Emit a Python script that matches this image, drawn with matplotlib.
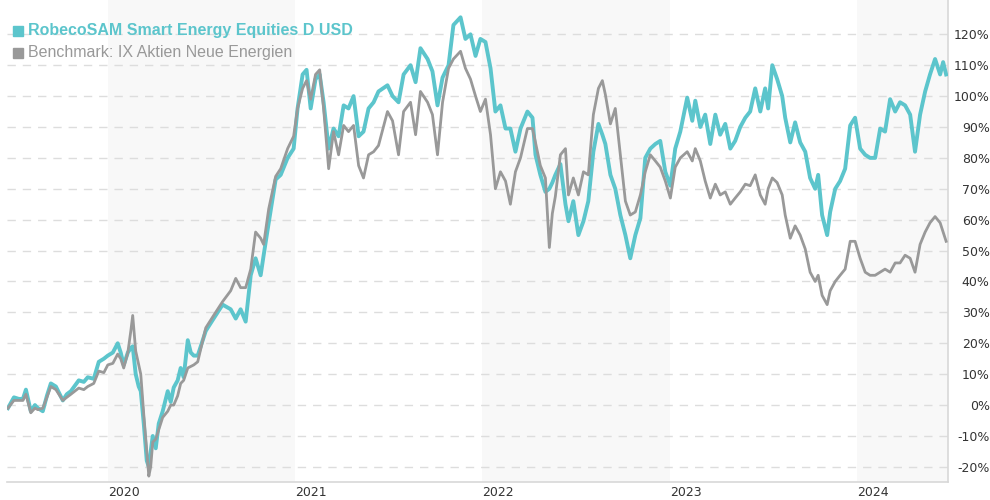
import matplotlib.pyplot as plt
from matplotlib.lines import Line2D

# time axis in decimal years, values in % performance
dates = [
    2019.467, 2019.499, 2019.525, 2019.547, 2019.563, 2019.589, 2019.611, 2019.627, 2019.653, 2019.675,
    2019.696, 2019.723, 2019.760, 2019.781, 2019.803, 2019.845, 2019.872, 2019.893, 2019.925, 2019.952,
    2019.979,
    2020.000, 2020.027, 2020.053, 2020.069, 2020.085, 2020.107, 2020.123, 2020.133, 2020.149, 2020.165,
    2020.176, 2020.192, 2020.208, 2020.219, 2020.229, 2020.240, 2020.256, 2020.272, 2020.293, 2020.320,
    2020.336, 2020.352, 2020.373, 2020.389, 2020.405, 2020.427, 2020.443, 2020.459, 2020.480, 2020.523,
    2020.565, 2020.613, 2020.656, 2020.683, 2020.709, 2020.736, 2020.763, 2020.789, 2020.816, 2020.832,
    2020.859, 2020.896, 2020.923, 2020.960, 2020.992,
    2021.013, 2021.040, 2021.061, 2021.083, 2021.109, 2021.131, 2021.152, 2021.179, 2021.205, 2021.232,
    2021.259, 2021.285, 2021.312, 2021.339, 2021.365, 2021.392, 2021.419, 2021.445, 2021.493, 2021.520,
    2021.552, 2021.579, 2021.616, 2021.643, 2021.669, 2021.707, 2021.733, 2021.760, 2021.787, 2021.819,
    2021.845, 2021.883, 2021.909, 2021.936, 2021.963, 2021.989,
    2022.016, 2022.043, 2022.069, 2022.096, 2022.123, 2022.149, 2022.176, 2022.203, 2022.240, 2022.267,
    2022.283, 2022.309, 2022.336, 2022.357, 2022.373, 2022.389, 2022.416, 2022.443, 2022.459, 2022.485,
    2022.512, 2022.539, 2022.565, 2022.592, 2022.619, 2022.640, 2022.656, 2022.683, 2022.709, 2022.736,
    2022.763, 2022.789, 2022.816, 2022.843, 2022.869, 2022.896, 2022.923, 2022.949, 2022.976,
    2023.003, 2023.029, 2023.056, 2023.093, 2023.120, 2023.136, 2023.163, 2023.189, 2023.216, 2023.243,
    2023.269, 2023.296, 2023.323, 2023.349, 2023.376, 2023.403, 2023.429, 2023.456, 2023.483, 2023.509,
    2023.525, 2023.547, 2023.573, 2023.600, 2023.616, 2023.643, 2023.669, 2023.696, 2023.723, 2023.749,
    2023.776, 2023.792, 2023.813, 2023.840, 2023.856, 2023.883, 2023.909, 2023.936, 2023.963, 2023.989,
    2024.016, 2024.043, 2024.069, 2024.096, 2024.123, 2024.149, 2024.176, 2024.203, 2024.229, 2024.256,
    2024.283, 2024.309, 2024.336, 2024.363, 2024.389, 2024.416, 2024.443, 2024.459, 2024.475,
]

fund = [
    -1, 2.5, 2, 2, 5, -2, 0, -1, -2, 3, 7, 6, 1.5, 3.5, 4.5, 8, 7.5, 9, 8.5, 14, 15,
    16, 17, 20, 17, 13, 17, 18.5, 19, 10, 6, 4.5, -6, -18, -20, -15, -10, -14, -6, -2, 4.5,
    1, 5.7, 8, 12, 9, 21, 17, 16, 16, 24, 28, 32.5, 31, 28, 31, 27, 42, 47.5, 42, 48.5,
    59, 73, 74.5, 80, 83,
    96, 107, 108.5, 96, 105.5, 107, 98, 83, 89.5, 87, 97, 96, 100, 87, 88.5, 96, 98, 101.5, 103.5, 100,
    98, 107, 110, 104.5, 115.5, 112, 108, 97, 106, 110, 123, 125.5, 118.5, 120, 113, 118.5,
    117.5, 109, 95, 97, 89.5, 89.5, 82, 89.5, 95, 93, 81, 74.5, 69, 70, 72, 74.5, 78, 65, 59.5, 66,
    55, 59.5, 66, 82, 91, 87.5, 84.5, 74.5, 70, 61.5, 55, 47.5, 55, 60.5, 80, 83, 84.5, 85.5, 75.5,
    71, 83, 88.5, 99.5, 92, 98.5, 90, 94, 84.5, 94, 87.5, 91, 83, 85.5, 90, 93, 95, 102.5, 95, 102.5,
    96, 110, 105.5, 100, 93, 85, 91.5, 85, 82, 73.5, 70, 74.5, 61.5, 55, 62.5, 70, 72.5, 76.5, 90.5, 93,
    83, 81, 80, 80, 89.5, 88.5, 99, 95, 98, 97, 94, 82, 94, 101.5, 107, 112, 107, 111, 107,
]

benchmark = [
    -1, 1.5, 1.5, 1.5, 3.5, -2.5, -1, -1.5, -1, 2.5, 6, 5, 1.5, 2.5, 3.5, 5.5, 5, 6, 7, 11, 10.5,
    13, 13.5, 16.5, 15, 12, 17, 24, 29, 17.5, 13, 10, -3, -15, -23, -20, -12, -11, -8, -4, -2,
    0, 0, 3, 7, 8, 12, 12.5, 13, 14, 25, 29, 33.5, 37, 41, 38, 38, 44, 56, 54, 52,
    63.5, 74, 76.5, 83, 87,
    96, 102.5, 105, 99, 107, 108.5, 96, 76.5, 88.5, 81, 90.5, 88.5, 90.5, 77.5, 73.5, 81, 82, 84, 95, 92,
    81, 95, 98, 87.5, 101.5, 98, 94, 81, 98, 109, 112, 114.5, 109, 105.5, 100, 95,
    99, 87.5, 70, 75.5, 72.5, 65, 75.5, 80, 89.5, 89.5, 85, 77.5, 73.5, 51, 62, 67.5, 81, 83, 68, 73.5,
    68, 75.5, 74.5, 94, 102.5, 105, 100.5, 91, 96, 81, 66, 61.5, 62.5, 68, 75.5, 81, 79, 77, 72.5,
    67, 77, 80, 82, 79, 83, 79, 72.5, 67, 71.5, 68, 69, 65, 67, 69, 71.5, 71, 74.5, 68, 65,
    70, 73.5, 72, 68, 61.5, 54, 58, 55, 50.5, 43, 40, 42, 35.5, 32.5, 37, 40, 42, 44, 53, 53,
    47.5, 43, 42, 42, 43, 44, 43, 46, 46, 48.5, 47.5, 43, 52, 56, 59, 61, 59, 56, 53,
]

years = [2020, 2021, 2022, 2023, 2024]
shaded_years = [2020, 2022, 2024]
y_ticks = list(range(-20, 130, 10))

fund_name = "RobecoSAM Smart Energy Equities D USD"
bench_name = "Benchmark: IX Aktien Neue Energien"

teal = "#5cc5cc"
grey = "#999999"

fig = plt.figure(figsize=(9.9, 5.0), dpi=100)
ax = fig.add_axes([7 / 990, 18 / 500, 941 / 990, 482 / 500])

x_min, x_max = 2019.462, 2024.485
ax.set_xlim(x_min, x_max)
ax.set_ylim(-24.9, 131.1)

for yr in shaded_years:
    ax.axvspan(yr, min(yr + 1, x_max), color="#f8f8f8", zorder=0, lw=0)

for v in y_ticks:
    ax.axhline(v, color="#dddddd", lw=1, dashes=(6, 5), zorder=1)

ax.plot(dates, fund, color=teal, lw=2.8, zorder=3, solid_joinstyle="round")
ax.plot(dates, benchmark, color=grey, lw=2.0, zorder=4, solid_joinstyle="round")

ax.yaxis.tick_right()
ax.set_yticks(y_ticks)
ax.set_yticklabels([f"{v}%" for v in y_ticks], fontsize=9, color="#333333",
                   family="DejaVu Sans", ha="right")
ax.tick_params(axis="y", length=0, pad=30)

ax.set_xticks(years)
ax.set_xticklabels([str(y) for y in years], fontsize=9, color="#333333",
                   family="DejaVu Sans", ha="left")
ax.tick_params(axis="x", length=0, pad=3)

for side in ["top", "left"]:
    ax.spines[side].set_visible(False)
for side in ["bottom", "right"]:
    ax.spines[side].set_color("#d8d8d8")
    ax.spines[side].set_linewidth(1.2)

# legend in the top-left corner
fig.add_artist(Line2D([17.5 / 990], [1 - 31 / 500], marker="s", ms=7, color=teal,
                      transform=fig.transFigure, ls=""))
fig.text(28 / 990, 1 - 31 / 500, fund_name, fontsize=11.5, color=teal,
         weight="bold", family="Liberation Sans", va="center")
fig.add_artist(Line2D([17.5 / 990], [1 - 53 / 500], marker="s", ms=7, color=grey,
                      transform=fig.transFigure, ls=""))
fig.text(28 / 990, 1 - 53 / 500, bench_name, fontsize=11.5, color=grey,
         family="Liberation Sans", va="center")

fig.savefig("out.png", dpi=100)
